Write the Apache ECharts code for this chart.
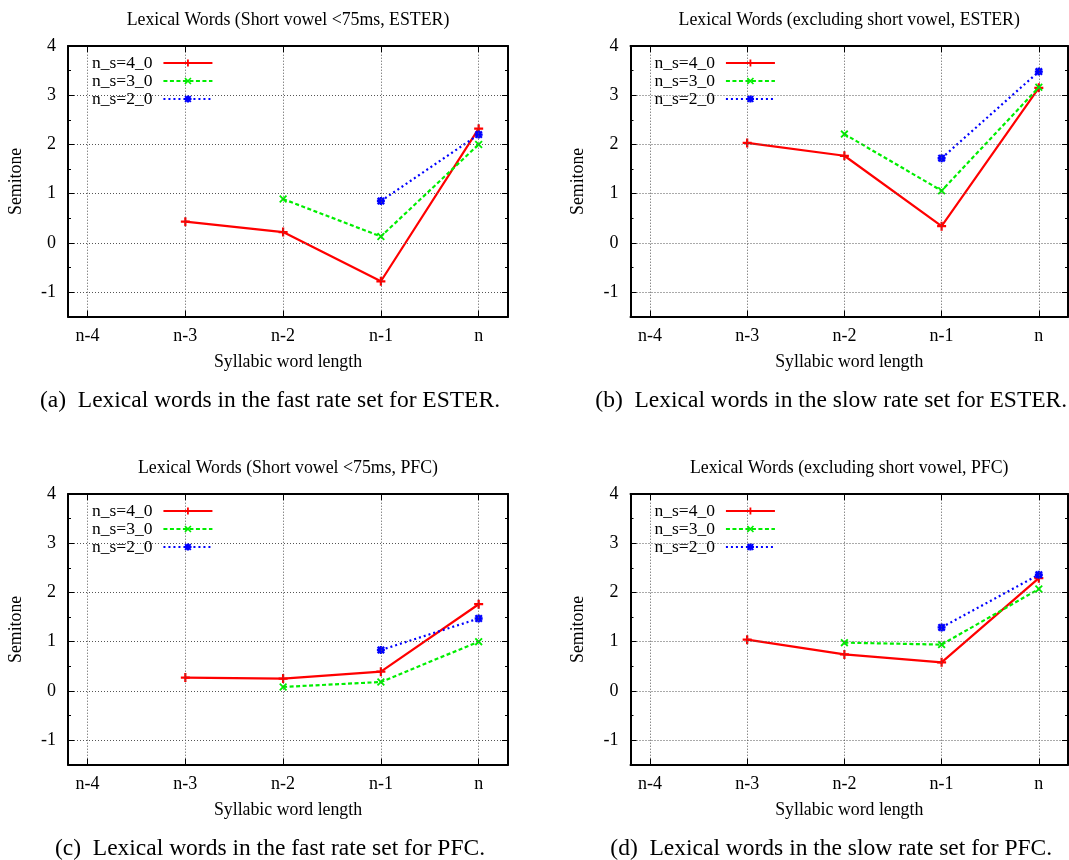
<!DOCTYPE html>
<html>
<head>
<meta charset="utf-8">
<script src="https://cdn.jsdelivr.net/npm/echarts@6/dist/echarts.min.js"></script>
<style>
  html, body { margin: 0; padding: 0; background: #fff; }
  #chart { width: 1069px; height: 860px; }
</style>
</head>
<body>
<div id="chart"></div>
<script>
// ---- data ----
const syllablePositions = ['n-4', 'n-3', 'n-2', 'n-1', 'n'];
const seriesNames = ['n_s=4_0', 'n_s=3_0', 'n_s=2_0'];
const yMajorTicks = [-1, 0, 1, 2, 3, 4];
const yMinorTicks = [-0.5, 0.5, 1.5, 2.5, 3.5];
const yGridValues = [-1, 0, 1, 2, 3];
const xTickValues = [0, 1, 2, 3, 4];

const panelTitles = [
  'Lexical Words (Short vowel <75ms, ESTER)',
  'Lexical Words (excluding short vowel, ESTER)',
  'Lexical Words (Short vowel <75ms, PFC)',
  'Lexical Words (excluding short vowel, PFC)'
];
const panelCaptions = [
  '(a)  Lexical words in the fast rate set for ESTER.',
  '(b)  Lexical words in the slow rate set for ESTER.',
  '(c)  Lexical words in the fast rate set for PFC.',
  '(d)  Lexical words in the slow rate set for PFC.'
];

// mean semitone values per syllable position (null = no words of that length)
const fastEster4 = [null, 0.43, 0.22, -0.78, 2.32];
const fastEster3 = [null, null, 0.89, 0.13, 2.00];
const fastEster2 = [null, null, null, 0.85, 2.20];

const slowEster4 = [null, 2.03, 1.77, 0.34, 3.15];
const slowEster3 = [null, null, 2.21, 1.06, 3.16];
const slowEster2 = [null, null, null, 1.72, 3.48];

const fastPfc4 = [null, 0.27, 0.25, 0.39, 1.76];
const fastPfc3 = [null, null, 0.08, 0.18, 1.00];
const fastPfc2 = [null, null, null, 0.83, 1.47];

const slowPfc4 = [null, 1.04, 0.74, 0.58, 2.29];
const slowPfc3 = [null, null, 0.98, 0.94, 2.07];
const slowPfc2 = [null, null, null, 1.29, 2.36];

const panelData = [
  [fastEster4, fastEster3, fastEster2],
  [slowEster4, slowEster3, slowEster2],
  [fastPfc4, fastPfc3, fastPfc2],
  [slowPfc4, slowPfc3, slowPfc2]
];

// ---- styling ----
const FONT = 'Liberation Serif, Times New Roman, serif';
const plusPath = 'path://M3.75,0h2.5v10h-2.5zM0,3.75h10v2.5h-10z';
const crossPath = 'path://M0,1.6L1.6,0L10,8.4L8.4,10ZM8.4,0L10,1.6L1.6,10L0,8.4Z';
const starPath = 'path://M3.5,0h3v10h-3zM0,3.5h10v3h-10zM0,2L2,0L10,8L8,10ZM8,0L10,2L2,10L0,8Z';

const seriesStyles = [
  { color: '#ff0000', type: 'solid', symbol: plusPath, symbolSize: 9 },
  { color: '#00ee00', type: [4, 2.5], symbol: crossPath, symbolSize: 8 },
  { color: '#0000ff', type: [2, 3], symbol: starPath, symbolSize: 8 }
];

// plot rectangles (px)
const frames = [
  { left: 68, top: 46, width: 440, height: 270.7 },
  { left: 630.5, top: 46, width: 437.5, height: 270.7 },
  { left: 68, top: 494, width: 440, height: 270.7 },
  { left: 630.5, top: 494, width: 437.5, height: 270.7 }
];

const X_MIN = -0.2, X_MAX = 4.3, Y_MIN = -1.5, Y_MAX = 4;

const grid = [], xAxis = [], yAxis = [], series = [], legend = [], graphic = [];

frames.forEach((f, g) => {
  grid.push({ left: f.left, top: f.top, width: f.width, height: f.height, show: false });

  const frameLine = { show: true, onZero: false, lineStyle: { color: '#000', width: 2 } };
  const tickLine = { color: '#000', width: 1 };

  // bottom axis with labels, top mirror axis
  xAxis.push({
    type: 'value', gridIndex: g, position: 'bottom', min: X_MIN, max: X_MAX, z: 5,
    axisLine: frameLine,
    axisTick: { show: true, inside: true, length: 6, customValues: xTickValues, lineStyle: tickLine },
    axisLabel: {
      show: true, customValues: xTickValues, margin: 11,
      formatter: v => syllablePositions[Math.round(v)] || '',
      color: '#000', fontFamily: FONT, fontSize: 18
    },
    splitLine: { show: false },
    name: 'Syllabic word length', nameLocation: 'middle', nameGap: 37,
    nameTextStyle: { color: '#000', fontFamily: FONT, fontSize: 17.8 }
  });
  xAxis.push({
    type: 'value', gridIndex: g, position: 'top', min: X_MIN, max: X_MAX, z: 5,
    axisLine: frameLine,
    axisTick: { show: true, inside: true, length: 6, customValues: xTickValues, lineStyle: tickLine },
    axisLabel: { show: false },
    splitLine: { show: false }
  });

  // left major (labels), left minor, right major, right minor
  const yBase = { type: 'value', gridIndex: g, min: Y_MIN, max: Y_MAX, z: 5, splitLine: { show: false } };
  yAxis.push(Object.assign({}, yBase, {
    position: 'left',
    axisLine: frameLine,
    axisTick: { show: true, inside: true, length: 6, customValues: yMajorTicks, lineStyle: tickLine },
    axisLabel: { show: true, customValues: yMajorTicks, margin: 12, color: '#000', fontFamily: FONT, fontSize: 18 },
    name: 'Semitone', nameLocation: 'middle', nameGap: 43,
    nameTextStyle: { color: '#000', fontFamily: FONT, fontSize: 17.8 }
  }));
  yAxis.push(Object.assign({}, yBase, {
    position: 'left',
    axisLine: { show: false, onZero: false },
    axisTick: { show: true, inside: true, length: 3, customValues: yMinorTicks, lineStyle: tickLine },
    axisLabel: { show: false }
  }));
  yAxis.push(Object.assign({}, yBase, {
    position: 'right',
    axisLine: frameLine,
    axisTick: { show: true, inside: true, length: 6, customValues: yMajorTicks, lineStyle: tickLine },
    axisLabel: { show: false }
  }));
  yAxis.push(Object.assign({}, yBase, {
    position: 'right',
    axisLine: { show: false, onZero: false },
    axisTick: { show: true, inside: true, length: 3, customValues: yMinorTicks, lineStyle: tickLine },
    axisLabel: { show: false }
  }));

  // dotted grid
  series.push({
    type: 'line', xAxisIndex: 2 * g, yAxisIndex: 4 * g, data: [], z: 1, silent: true,
    markLine: {
      silent: true, symbol: 'none', animation: false,
      label: { show: false },
      lineStyle: { color: '#555', width: 1, type: [1, 2] },
      data: xTickValues.map(v => ({ xAxis: v })).concat(yGridValues.map(v => ({ yAxis: v })))
    }
  });

  // data lines
  panelData[g].forEach((vals, i) => {
    const st = seriesStyles[i];
    series.push({
      type: 'line', name: seriesNames[i], xAxisIndex: 2 * g, yAxisIndex: 4 * g, z: 4,
      data: vals.map((v, k) => [k, v]).filter(p => p[1] !== null),
      symbol: st.symbol, symbolSize: st.symbolSize, showAllSymbol: true,
      lineStyle: { color: st.color, width: 2.2, type: st.type },
      itemStyle: { color: st.color },
      animation: false
    });
  });

  legend.push({
    data: seriesNames, orient: 'vertical', align: 'right', selectedMode: false,
    left: f.left + 24, top: f.top + 8, padding: 0, itemGap: 0,
    itemWidth: 49, itemHeight: 9, z: 6,
    textStyle: { color: '#000', fontFamily: FONT, fontSize: 17.5, lineHeight: 17.6, padding: [0, 6, 0, 0] }
  });

  // opaque key box, titles and captions
  graphic.push({
    type: 'rect', z: 2, silent: true,
    shape: { x: f.left + 1, y: f.top + 1, width: 157, height: 60 },
    style: { fill: '#fff' }
  });
  graphic.push({
    type: 'text', z: 6, silent: true,
    x: f.left + f.width / 2, y: f.top - 26,
    style: { text: panelTitles[g], font: '17.8px ' + FONT, fill: '#000',
             align: 'center', verticalAlign: 'middle', textAlign: 'center', textVerticalAlign: 'middle' }
  });
  graphic.push({
    type: 'text', z: 6, silent: true,
    x: f.left + f.width / 2 - 18, y: f.top + 355,
    style: { text: panelCaptions[g], font: '23.5px ' + FONT, fill: '#000',
             align: 'center', verticalAlign: 'middle', textAlign: 'center', textVerticalAlign: 'middle' }
  });
});

const chart = echarts.init(document.getElementById('chart'), null, { renderer: 'canvas' });
chart.setOption({
  backgroundColor: '#fff',
  animation: false,
  grid, xAxis, yAxis, series, legend, graphic
});
</script>
</body>
</html>
